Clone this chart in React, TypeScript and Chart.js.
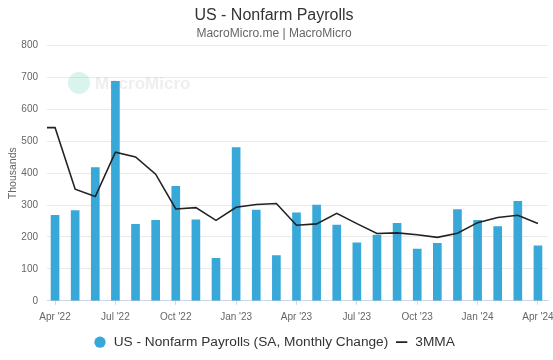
import { useEffect, useRef } from 'react';
import { Chart, registerables } from 'chart.js';

Chart.register(...registerables);

const months = [
  "Apr '22", "May '22", "Jun '22", "Jul '22", "Aug '22", "Sep '22", "Oct '22", "Nov '22", "Dec '22",
  "Jan '23", "Feb '23", "Mar '23", "Apr '23", "May '23", "Jun '23", "Jul '23", "Aug '23", "Sep '23",
  "Oct '23", "Nov '23", "Dec '23", "Jan '24", "Feb '24", "Mar '24", "Apr '24",
];
const payrolls = [268, 283, 418, 688, 240, 252, 359, 254, 133, 480, 284, 142, 276, 300, 237, 182, 206, 243, 162, 180, 286, 252, 233, 312, 172];
const mma3 = [543, 350, 327, 466, 451, 397, 288, 292, 252, 293, 302, 305, 237, 241, 274, 242, 211, 213, 207, 199, 212, 245, 261, 268, 242];
const mma3PriorMonth = 543; // Mar '22, just left of the visible range
const tickMonths = ["Apr '22", "Jul '22", "Oct '22", "Jan '23", "Apr '23", "Jul '23", "Oct '23", "Jan '24", "Apr '24"];
const yMin = 0;
const yMax = 800;
const yStep = 100;

const watermark = {
  id: 'watermark',
  beforeDatasetsDraw(chart: any) {
    const { ctx } = chart;
    ctx.save();
    ctx.fillStyle = 'rgba(120, 215, 190, 0.28)';
    ctx.beginPath();
    ctx.arc(79, 83, 11, 0, Math.PI * 2);
    ctx.fill();
    ctx.fillStyle = 'rgba(170, 170, 170, 0.2)';
    ctx.font = 'bold 17px "Liberation Sans", Arial, sans-serif';
    ctx.textBaseline = 'middle';
    ctx.fillText('MacroMicro', 95, 84);
    ctx.restore();
  },
};

export default function App() {
  const ref = useRef<HTMLCanvasElement>(null);
  useEffect(() => {
    document.body.style.margin = '0';
    Chart.defaults.font.family = '"Liberation Sans", Arial, Helvetica, sans-serif';
    const tickIdx = tickMonths.map((m) => months.indexOf(m));
    const chart = new Chart(ref.current!, {
      type: 'bar',
      data: {
        datasets: [
          {
            type: 'bar',
            label: 'US - Nonfarm Payrolls (SA, Monthly Change)',
            data: payrolls.map((v, i) => ({ x: i, y: v })),
            backgroundColor: '#38a8d8',
            borderWidth: 0,
            barThickness: 8,
            pointStyle: 'circle',
            order: 1,
          } as any,
          {
            type: 'line',
            label: '3MMA',
            data: [{ x: -1, y: mma3PriorMonth }, ...mma3.map((v, i) => ({ x: i, y: v }))],
            borderColor: '#222222',
            backgroundColor: '#222222',
            borderWidth: 1.6,
            pointRadius: 0,
            pointStyle: 'line',
            tension: 0,
            clip: 0,
            order: 0,
          } as any,
        ],
      },
      options: {
        animation: false,
        responsive: true,
        maintainAspectRatio: false,
        layout: { padding: { left: 0, right: 5, top: 0, bottom: 1 } },
        plugins: {
          title: {
            display: true,
            text: 'US - Nonfarm Payrolls',
            color: '#333333',
            font: { size: 16, weight: 'normal' },
            padding: { top: 6, bottom: 1 },
          },
          subtitle: {
            display: true,
            text: 'MacroMicro.me | MacroMicro',
            color: '#666666',
            font: { size: 12 },
            padding: { top: 0, bottom: 5 },
          },
          legend: {
            position: 'bottom',
            labels: {
              usePointStyle: true,
              boxHeight: 8,
              color: '#333333',
              font: { size: 13.7 },
              padding: 6.5,
              sort: (a: any, b: any) => a.datasetIndex - b.datasetIndex,
            },
          },
          tooltip: { enabled: false },
        },
        scales: {
          x: {
            type: 'linear',
            min: -0.4,
            max: 24.5,
            offset: false,
            grid: { drawOnChartArea: false, drawTicks: true, tickLength: 4, color: '#ccd6eb', offset: false },
            border: { color: '#ccd6eb' },
            ticks: {
              color: '#666666',
              font: { size: 10 },
              autoSkip: false,
              maxRotation: 0,
              padding: 6,
              callback: (v: any) => months[v as number] ?? '',
            },
            afterBuildTicks: (s: any) => {
              s.ticks = tickIdx.map((v) => ({ value: v }));
            },
            afterFit: (s: any) => {
              s.paddingLeft = 0;
              s.paddingRight = 0;
            },
          },
          y: {
            min: yMin,
            max: yMax,
            ticks: { stepSize: yStep, color: '#666666', font: { size: 10 }, padding: 9 },
            grid: { color: '#e9e9e9', drawTicks: false },
            border: { display: false },
            title: { display: true, text: 'Thousands', color: '#666666', font: { size: 10.5 }, padding: { top: 7, bottom: 0 } },
            afterFit: (s: any) => {
              s.width = 47;
            },
          },
        },
      },
      plugins: [watermark],
    });
    return () => chart.destroy();
  }, []);
  return (
    <div style={{ width: 553, height: 360, position: 'relative' }}>
      <canvas ref={ref} />
    </div>
  );
}
